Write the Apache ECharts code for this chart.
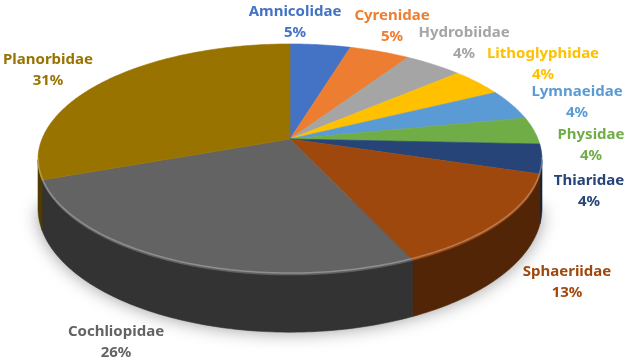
<!DOCTYPE html>
<html>
<head>
<meta charset="utf-8">
<script src="https://cdn.jsdelivr.net/npm/echarts@6/dist/echarts.min.js"></script>
<style>
  html, body { margin: 0; background: #fff; }
  #chart { width: 626px; height: 361px; }
</style>
</head>
<body>
<div id="chart"></div>
<script>
// families, clockwise from 12 o'clock
const families = ['Amnicolidae', 'Cyrenidae', 'Hydrobiidae', 'Lithoglyphidae', 'Lymnaeidae',
  'Physidae', 'Thiaridae', 'Sphaeriidae', 'Cochliopidae', 'Planorbidae']
// share of individuals (%)
const shares = [4.6, 4.6, 4.4, 4.0, 4.3, 3.8, 4.1, 13.4, 26.2, 30.6]
const colors = ['#4472C4', '#ED7D31', '#A5A5A5', '#FFC000', '#5B9BD5',
  '#70AD47', '#264478', '#9E480E', '#636363', '#997300']
// where the data labels sit (label block centres)
const labelPos = [[295, 22], [392, 26], [464, 43], [543, 64], [577, 102],
  [591, 145], [589, 191], [567, 282], [116, 342], [48, 70]]

// 3d pie geometry: centre, radii, perspective and thickness
const CX = 290, CY = 139, RX = 248, RY = 111.9, K = 0.1774, DEPTH = 47
const SIDE_FROM = 90 + Math.asin(K) * 180 / Math.PI
const SIDE_TO = 360 - SIDE_FROM

const total = shares.reduce((s, v) => s + v, 0)
const starts = []
shares.reduce((s, v) => { starts.push(s); return s + v }, 0)

function rim(deg) {
  const r = deg * Math.PI / 180
  const u = Math.sin(r), v = -Math.cos(r)
  const w = 1 - K * v
  return [CX + RX * u / w, CY + RY * v / w, w]
}

function arc(a0, a1) {
  const pts = []
  for (let a = a0; a < a1; a += 1) pts.push(rim(a))
  pts.push(rim(a1))
  return pts
}

function shade(hex, f) {
  const n = parseInt(hex.slice(1), 16)
  const c = [(n >> 16) & 255, (n >> 8) & 255, n & 255].map((x) => Math.round(x * f))
  return 'rgb(' + c.join(',') + ')'
}

function renderItem(params, api) {
  const i = params.dataIndex
  const val = api.value(0)
  const a0 = starts[i] / total * 360
  const a1 = (starts[i] + val) / total * 360
  const children = []

  if (i === 0) {
    // soft shadow under the whole pie
    const base = arc(SIDE_FROM, SIDE_TO).map((p) => [p[0], p[1] + DEPTH / p[2] - 8])
    children.push({
      type: 'polygon', z2: 0,
      shape: { points: base },
      style: { fill: '#555', shadowBlur: 18, shadowOffsetY: 8, shadowColor: 'rgba(0,0,0,0.4)' },
    })
  }

  // top face
  const top = [[CX, CY]].concat(arc(a0, a1).map((p) => [p[0], p[1]]))
  children.push({
    type: 'polygon', z2: 10,
    shape: { points: top },
    style: { fill: colors[i], stroke: colors[i], lineWidth: 0.6 },
  })

  // outer wall, only the part facing us
  const s0 = Math.max(a0, SIDE_FROM), s1 = Math.min(a1, SIDE_TO)
  if (s1 > s0) {
    const edge = arc(s0, s1)
    const upper = edge.map((p) => [p[0], p[1]])
    const lower = edge.map((p) => [p[0], p[1] + DEPTH / p[2]]).reverse()
    children.push({
      type: 'polygon', z2: 1,
      shape: { points: upper.concat(lower) },
      style: { fill: shade(colors[i], 0.52), stroke: shade(colors[i], 0.52), lineWidth: 0.6 },
    })
    // bevel highlight along the front rim
    children.push({
      type: 'polyline', z2: 12,
      shape: { points: edge.map((p) => [p[0], p[1] - 2]) },
      style: { stroke: 'rgba(255,255,255,0.28)', lineWidth: 1.5, fill: null },
    })
  }

  const pct = Math.round(val / total * 100) + '%'
  children.push({
    type: 'text', z2: 20,
    x: labelPos[i][0], y: labelPos[i][1],
    style: {
      text: families[i] + '\n' + pct,
      fill: colors[i],
      font: 'bold 15px "Noto Sans"',
      align: 'center',
      verticalAlign: 'middle',
      lineHeight: 21,
    },
  })

  return { type: 'group', children: children }
}

const myChart = echarts.init(document.getElementById('chart'))
myChart.setOption({
  animation: false,
  backgroundColor: '#fff',
  series: [
    {
      type: 'custom',
      coordinateSystem: 'none',
      renderItem: renderItem,
      data: shares.map((v, i) => ({ name: families[i], value: [v] })),
    },
  ],
})
</script>
</body>
</html>
